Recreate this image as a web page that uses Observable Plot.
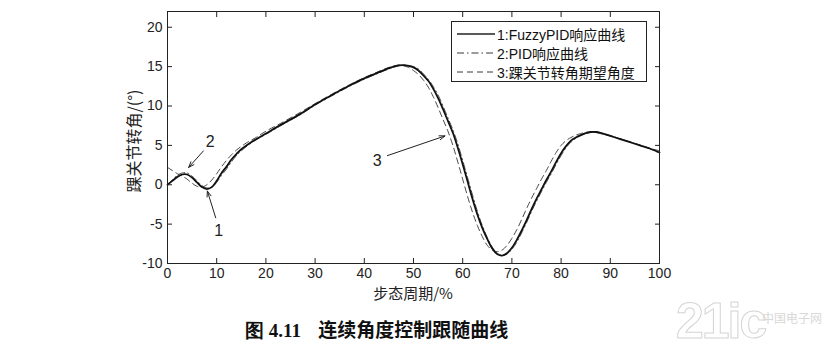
<!DOCTYPE html>
<html>
<head>
<meta charset="utf-8">
<script src="https://cdn.jsdelivr.net/npm/d3@7"></script>
<script src="https://cdn.jsdelivr.net/npm/@observablehq/plot@0.6"></script>
<style>
  html, body { margin: 0; padding: 0; background: #fff; }
  #wrap { position: relative; width: 829px; height: 353px; overflow: hidden; }
  #legend { position: absolute; left: 451px; top: 21px; width: 194px; height: 59px; border: 1px solid #222; background: #fff;
            font-family: "Liberation Sans", "Noto Sans CJK SC", sans-serif; font-size: 14px; color: #111; }
  .row { position: absolute; left: 5px; height: 18px; display: flex; align-items: center; }
  .row svg { width: 38px; height: 10px; margin-right: 2px; }
  #xlabel { position: absolute; left: 372px; top: 282px; width: 82px; text-align: center; font-family: "Noto Sans CJK SC", sans-serif; font-size: 15px; color: #222; white-space: nowrap; }
  #ylabel { position: absolute; left: 133px; top: 141px; transform: translate(-50%, -50%) rotate(-90deg); font-family: "Noto Sans CJK SC", sans-serif; font-size: 16px; color: #222; white-space: nowrap; }
  #caption { position: absolute; left: 245px; top: 315px; font-family: "Noto Sans CJK SC", sans-serif; font-weight: 700; font-size: 19px; color: #111; white-space: pre; }
  #caption .num { font-family: "Liberation Serif", serif; font-size: 19px; }
  #wm { position: absolute; left: 676px; top: 292px; font-family: "Liberation Sans", sans-serif; font-weight: 700; font-size: 50px; color: transparent; -webkit-text-stroke: 1px #d4d4d4; letter-spacing: -2px; }
  #wm2 { position: absolute; left: 762px; top: 309px; font-family: "Noto Sans CJK SC", sans-serif; font-size: 12px; color: #d8d8d8; }
</style>
</head>
<body>
<div id="wrap"></div>
<script>
// ---- data ----
const fuzzyX = [0,1,2,3,3.5,4,5,6,7,8,9,10,11,12,13,14,15,17,20,23,27,30,34,37,40,43,45,47,48,49,50,51,52,53,54,55,56,57,58,59,60,61,62,63,64,65,66,67,68,69,70,71,72,73,74,75,76,77,78,79,80,81,82,83,84,85,86,87,88,89,90,92,94,96,98,100];
const fuzzyY = [0,0.5,1.0,1.3,1.35,1.3,0.9,0.3,-0.3,-0.55,-0.3,0.5,1.5,2.3,3.2,3.9,4.5,5.4,6.5,7.6,9.0,10.2,11.6,12.6,13.5,14.3,14.8,15.15,15.2,15.1,14.9,14.5,13.9,13.2,12.2,11.0,9.6,8.1,6.6,4.7,2.6,0.4,-1.8,-3.8,-5.5,-6.9,-8.1,-8.8,-9.0,-8.7,-8.0,-7.0,-5.8,-4.5,-3.1,-1.8,-0.6,0.6,1.7,2.9,4.0,4.9,5.6,6.0,6.3,6.55,6.7,6.7,6.6,6.4,6.2,5.8,5.4,5.0,4.6,4.1];

const pidX = [0,1,2,3,4,5,6,7,8,9,10,11,12,13,14,15,17,20,23,27,30,34,37,40,43,45,47,48,49,50,51,52,53,54,55,56,57,58,59,60,61,62,63,64,65,66,67,68,69,70,71,72,73,74,75,76,77,78,79,80,81,82,83,84,85,86,87,88,89,90,92,94,96,98,100];
const pidY = [0,0.6,1.2,1.5,1.5,1.1,0.5,-0.1,-0.4,-0.3,0.3,1.2,2.0,2.9,3.7,4.3,5.3,6.4,7.5,8.9,10.1,11.5,12.5,13.4,14.2,14.7,15.1,15.2,15.15,15.0,14.7,14.1,13.4,12.5,11.4,10.0,8.5,7.0,5.2,3.1,0.9,-1.3,-3.4,-5.2,-6.7,-7.9,-8.7,-9.0,-8.8,-8.2,-7.3,-6.1,-4.8,-3.4,-2.1,-0.9,0.3,1.4,2.6,3.7,4.7,5.4,5.9,6.25,6.5,6.65,6.7,6.6,6.45,6.25,5.85,5.45,5.05,4.6,4.0];

const refX = [0,1,2,3,4,5,6,7,8,9,10,11,12,13,14,16,18,20,23,27,30,34,37,40,43,45,47,48,49,50,51,52,53,54,55,56,57,58,59,60,61,62,63,64,65,66,67,68,69,70,71,72,73,74,75,76,77,78,79,80,81,82,83,84,85,86,87,88,90,92,94,96,98,100];
const refY = [2.2,1.8,1.4,1.1,0.7,0.2,-0.2,-0.3,0.0,0.6,1.4,2.3,3.1,3.8,4.4,5.3,6.0,6.8,7.8,9.2,10.3,11.7,12.7,13.6,14.4,14.9,15.2,15.1,14.9,14.5,14.0,13.3,12.4,11.2,9.8,8.3,6.8,5.0,2.9,0.7,-1.5,-3.5,-5.2,-6.6,-7.7,-8.3,-8.5,-8.3,-7.7,-6.8,-5.7,-4.4,-3.0,-1.7,-0.5,0.7,1.8,3.0,4.1,5.0,5.6,6.0,6.3,6.5,6.65,6.7,6.65,6.5,6.2,5.85,5.45,5.05,4.65,4.3];

const xTicks = [0,10,20,30,40,50,60,70,80,90,100];
const yTicks = [-10,-5,0,5,10,15,20];

const annoLabels = ["1","2","3"];
const annoLabelX = [10.4, 8.7, 42.6];
const annoLabelY = [-5.8, 5.5, 3.0];
const arrowX1 = [9.8, 7.3, 44.7];
const arrowY1 = [-4.2, 4.3, 3.7];
const arrowX2 = [8.1, 4.3, 56.4];
const arrowY2 = [-0.8, 2.2, 6.2];

const legendLabels = ["1:FuzzyPID响应曲线", "2:PID响应曲线", "3:踝关节转角期望角度"];
const xLabel = "步态周期/%";
const yLabel = "踝关节转角/(°)";
const captionNum = "图 4.11";
const captionText = "连续角度控制跟随曲线";

// ---- tables ----
const fuzzy = fuzzyX.map((x, i) => ({x, y: fuzzyY[i]}));
const pid = pidX.map((x, i) => ({x, y: pidY[i]}));
const ref = refX.map((x, i) => ({x, y: refY[i]}));
const anno = annoLabels.map((t, i) => ({t, x: annoLabelX[i], y: annoLabelY[i]}));
const arrows = arrowX1.map((x1, i) => ({x1, y1: arrowY1[i], x2: arrowX2[i], y2: arrowY2[i]}));

const font = "Liberation Sans, Arial, sans-serif";
const blank = () => "";
const plain = (d) => String(d);

const chart = Plot.plot({
  width: 829,
  height: 305,
  marginLeft: 167,
  marginRight: 170,
  marginTop: 11,
  marginBottom: 42,
  style: {fontFamily: font, fontSize: "14px", color: "#222", background: "#fff"},
  x: {domain: [0, 100]},
  y: {domain: [-10, 22]},
  marks: [
    Plot.line(ref, {x: "x", y: "y", stroke: "#333", strokeWidth: 0.9, strokeDasharray: "6,4", curve: "catmull-rom"}),
    Plot.line(pid, {x: "x", y: "y", stroke: "#444", strokeWidth: 0.9, strokeDasharray: "7,3,1.5,3", curve: "catmull-rom"}),
    Plot.line(fuzzy, {x: "x", y: "y", stroke: "#111", strokeWidth: 1.8, curve: "catmull-rom"}),
    Plot.arrow(arrows, {x1: "x1", y1: "y1", x2: "x2", y2: "y2", stroke: "#222", strokeWidth: 1, headLength: 9, headAngle: 40}),
    Plot.text(anno, {x: "x", y: "y", text: "t", fontSize: 16, fill: "#222", fontFamily: font}),
    Plot.frame({stroke: "#222"}),
    // inward ticks (no labels)
    Plot.axisX(xTicks, {anchor: "bottom", tickSize: -5, tickFormat: blank, label: null, stroke: "#222"}),
    Plot.axisX(xTicks, {anchor: "top", tickSize: -5, tickFormat: blank, label: null, stroke: "#222"}),
    Plot.axisY(yTicks, {anchor: "left", tickSize: -5, tickFormat: blank, label: null, stroke: "#222"}),
    Plot.axisY(yTicks, {anchor: "right", tickSize: -5, tickFormat: blank, label: null, stroke: "#222"}),
    // tick labels
    Plot.axisX(xTicks, {anchor: "bottom", tickSize: 0, tickPadding: 5, fontSize: 14, fill: "#222", label: null, tickFormat: plain}),
    Plot.axisY(yTicks, {anchor: "left", tickSize: 0, tickPadding: 5, fontSize: 14, fill: "#222", label: null, tickFormat: plain})
  ]
});

const wrap = document.getElementById("wrap");
wrap.appendChild(chart);

// axis titles
const xl = document.createElement("div"); xl.id = "xlabel"; xl.textContent = xLabel; wrap.appendChild(xl);
const yl = document.createElement("div"); yl.id = "ylabel"; yl.textContent = yLabel; wrap.appendChild(yl);

// legend
const leg = document.createElement("div");
leg.id = "legend";
const dashes = [null, "7,3,1.5,3", "6,4"];
const widths = [1.6, 0.9, 0.9];
legendLabels.forEach((lab, i) => {
  const r = document.createElement("div");
  r.className = "row";
  r.style.top = (3 + i * 19) + "px";
  r.innerHTML = `<svg viewBox="0 0 38 10"><line x1="0" y1="5" x2="38" y2="5" stroke="#222" stroke-width="${widths[i]}" ${dashes[i] ? `stroke-dasharray="${dashes[i]}"` : ""}/></svg><span>${lab}</span>`;
  leg.appendChild(r);
});
wrap.appendChild(leg);

// caption
const cap = document.createElement("div");
cap.id = "caption";
cap.innerHTML = `<span class="num">${captionNum}</span>    ${captionText}`;
wrap.appendChild(cap);

// watermark
const wm = document.createElement("div"); wm.id = "wm"; wm.textContent = "21ic"; wrap.appendChild(wm);
const wm2 = document.createElement("div"); wm2.id = "wm2"; wm2.textContent = "中国电子网"; wrap.appendChild(wm2);
</script>
</body>
</html>
